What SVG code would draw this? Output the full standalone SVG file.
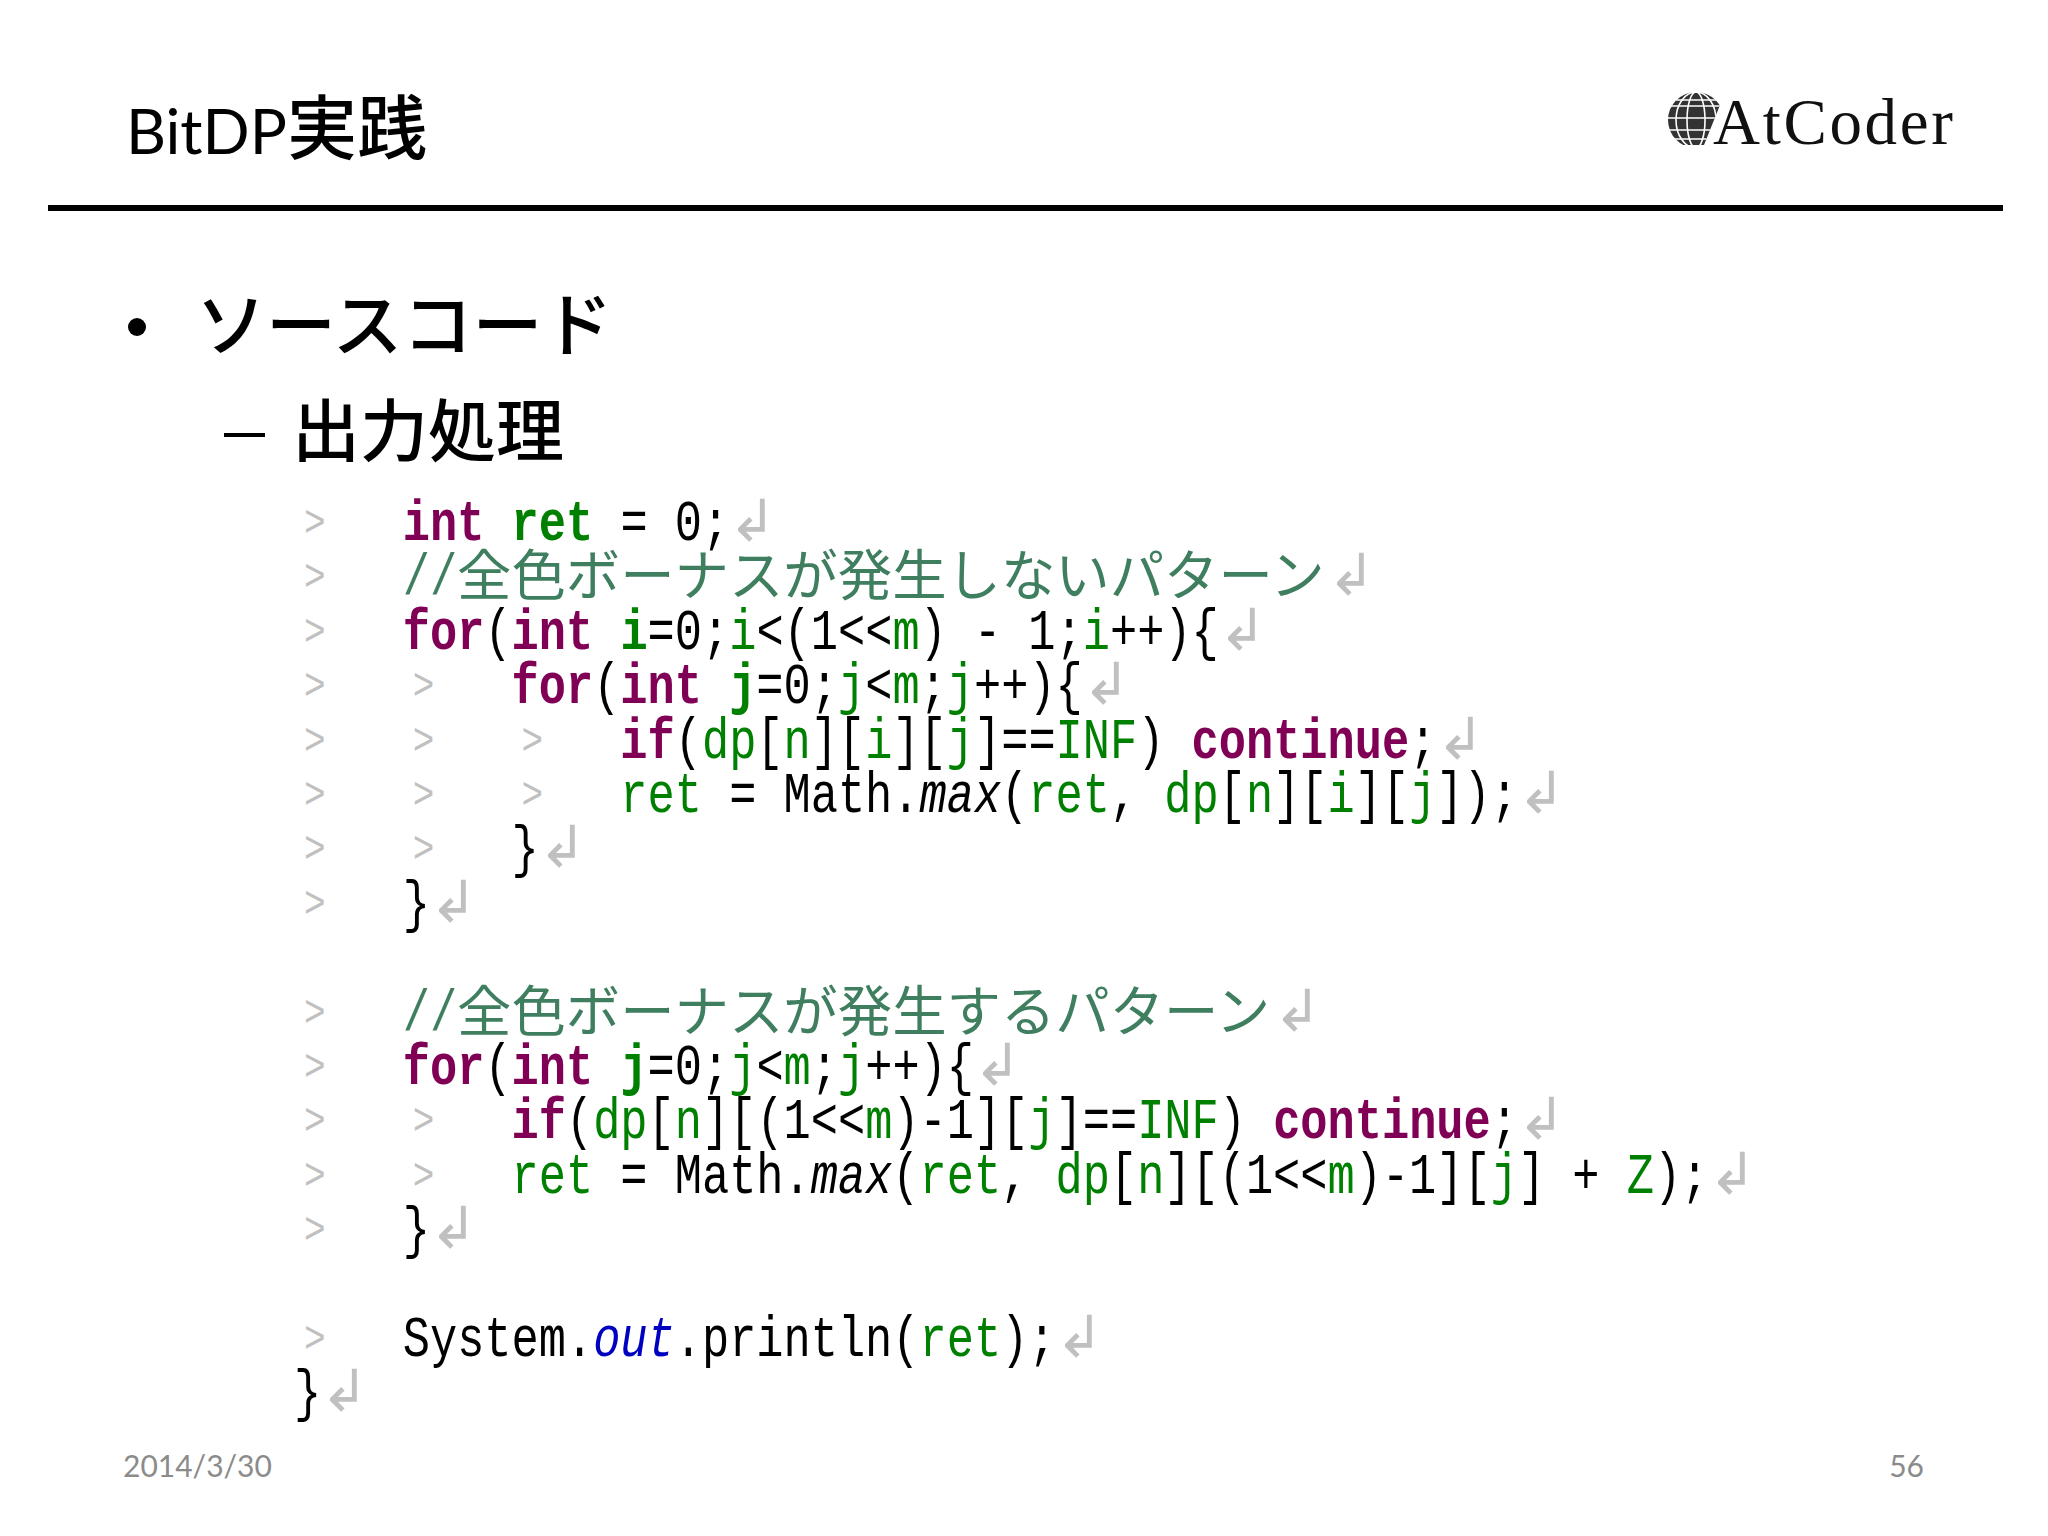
<svg xmlns="http://www.w3.org/2000/svg" width="2048" height="1536" viewBox="0 0 2048 1536">
<style>
text{white-space:pre}
.h{font-family:"Lato","Noto Sans CJK JP",sans-serif;fill:#000}
.jp{font-family:"Noto Sans CJK JP",sans-serif;fill:#000;font-weight:500}
.f{font-family:"Lato",sans-serif;fill:#8b8b8b;font-size:30px}
.c{font-family:"Liberation Mono",monospace;font-size:45.33px;fill:#000}
.k{fill:#7f0055;font-weight:bold}
.v{fill:#008000;font-weight:bold}
.g{fill:#008000}
.i{font-style:italic}
.b{fill:#0000c0;font-style:italic}
.m{fill:#3f7f5f}
.w{font-family:"Liberation Mono",monospace;font-size:36px;fill:#c0c0c0}
.r{font-family:"DejaVu Sans",sans-serif;font-size:58px;fill:#c0c0c0}
.cm{font-family:"Noto Sans CJK JP",sans-serif;font-size:54.4px;fill:#3f7f5f}
</style>
<rect width="2048" height="1536" fill="#fff"/>
<text class="h" x="126" y="154" font-size="62">BitDP<tspan font-size="70" font-weight="500">実践</tspan></text>
<rect x="48" y="205" width="1955" height="6" fill="#000"/>
<g id="logo">
<clipPath id="gc"><path d="M1724 95L1704 145H1660V87H1724Z"/></clipPath>
<g clip-path="url(#gc)">
<circle cx="1696" cy="120" r="28" fill="#333"/>
<g fill="none" stroke="#fff" stroke-width="1.6">
<ellipse cx="1696" cy="120" rx="9" ry="28"/>
<ellipse cx="1696" cy="120" rx="20" ry="28"/>
<path d="M1668 106H1724M1668 118H1724M1668 130H1724M1672 139H1724M1676 100H1724"/>
</g>
</g>
<text x="1713" y="144" font-family="Liberation Serif,serif" font-size="65" textLength="240" fill="#111">AtCoder</text>
</g>
<circle cx="137" cy="327" r="9" fill="#000"/>
<text class="jp" x="196" y="351" font-size="70">ソースコード</text>
<rect x="224" y="433" width="41" height="4" fill="#000"/>
<text class="jp" x="292" y="456" font-size="68">出力処理</text>
<g id="code">
<g transform="scale(1 1.25)">
<text class="c" y="432" x="294">    <tspan class="k">int</tspan> <tspan class="v">ret</tspan> = 0;</text>
<text class="c" y="475.52" x="294">    <tspan class="m">//</tspan></text>
<text class="c" y="519.04" x="294">    <tspan class="k">for</tspan>(<tspan class="k">int</tspan> <tspan class="v">i</tspan>=0;<tspan class="g">i</tspan>&lt;(1&lt;&lt;<tspan class="g">m</tspan>) - 1;<tspan class="g">i</tspan>++){</text>
<text class="c" y="562.56" x="294">        <tspan class="k">for</tspan>(<tspan class="k">int</tspan> <tspan class="v">j</tspan>=0;<tspan class="g">j</tspan>&lt;<tspan class="g">m</tspan>;<tspan class="g">j</tspan>++){</text>
<text class="c" y="606.08" x="294">            <tspan class="k">if</tspan>(<tspan class="g">dp</tspan>[<tspan class="g">n</tspan>][<tspan class="g">i</tspan>][<tspan class="g">j</tspan>]==<tspan class="g">INF</tspan>) <tspan class="k">continue</tspan>;</text>
<text class="c" y="649.6" x="294">            <tspan class="g">ret</tspan> = Math.<tspan class="i">max</tspan>(<tspan class="g">ret</tspan>, <tspan class="g">dp</tspan>[<tspan class="g">n</tspan>][<tspan class="g">i</tspan>][<tspan class="g">j</tspan>]);</text>
<text class="c" y="693.12" x="294">        }</text>
<text class="c" y="736.64" x="294">    }</text>
<text class="c" y="823.68" x="294">    <tspan class="m">//</tspan></text>
<text class="c" y="867.2" x="294">    <tspan class="k">for</tspan>(<tspan class="k">int</tspan> <tspan class="v">j</tspan>=0;<tspan class="g">j</tspan>&lt;<tspan class="g">m</tspan>;<tspan class="g">j</tspan>++){</text>
<text class="c" y="910.72" x="294">        <tspan class="k">if</tspan>(<tspan class="g">dp</tspan>[<tspan class="g">n</tspan>][(1&lt;&lt;<tspan class="g">m</tspan>)-1][<tspan class="g">j</tspan>]==<tspan class="g">INF</tspan>) <tspan class="k">continue</tspan>;</text>
<text class="c" y="954.24" x="294">        <tspan class="g">ret</tspan> = Math.<tspan class="i">max</tspan>(<tspan class="g">ret</tspan>, <tspan class="g">dp</tspan>[<tspan class="g">n</tspan>][(1&lt;&lt;<tspan class="g">m</tspan>)-1][<tspan class="g">j</tspan>] + <tspan class="g">Z</tspan>);</text>
<text class="c" y="997.76" x="294">    }</text>
<text class="c" y="1084.8" x="294">    System.<tspan class="b">out</tspan>.println(<tspan class="g">ret</tspan>);</text>
<text class="c" y="1128.32" x="294">}</text>
<g id="tabs">
<text class="w" y="428.8" x="304">&gt;</text>
<text class="w" y="472.32" x="304">&gt;</text>
<text class="w" y="515.84" x="304">&gt;</text>
<text class="w" y="559.36" x="304 412.8">&gt;&gt;</text>
<text class="w" y="602.88" x="304 412.8 521.6">&gt;&gt;&gt;</text>
<text class="w" y="646.4" x="304 412.8 521.6">&gt;&gt;&gt;</text>
<text class="w" y="689.92" x="304 412.8">&gt;&gt;</text>
<text class="w" y="733.44" x="304">&gt;</text>
<text class="w" y="820.48" x="304">&gt;</text>
<text class="w" y="864" x="304">&gt;</text>
<text class="w" y="907.52" x="304 412.8">&gt;&gt;</text>
<text class="w" y="951.04" x="304 412.8">&gt;&gt;</text>
<text class="w" y="994.56" x="304">&gt;</text>
<text class="w" y="1081.6" x="304">&gt;</text>
</g>
</g>
<g id="returns">
<text class="r" y="541" x="728">↲</text>
<text class="r" y="595.4" x="1327">↲</text>
<text class="r" y="649.8" x="1218">↲</text>
<text class="r" y="704.2" x="1082">↲</text>
<text class="r" y="758.6" x="1436">↲</text>
<text class="r" y="813" x="1517">↲</text>
<text class="r" y="867.4" x="538">↲</text>
<text class="r" y="921.8" x="429">↲</text>
<text class="r" y="1030.6" x="1273">↲</text>
<text class="r" y="1085" x="973">↲</text>
<text class="r" y="1139.4" x="1517">↲</text>
<text class="r" y="1193.8" x="1708">↲</text>
<text class="r" y="1248.2" x="429">↲</text>
<text class="r" y="1357" x="1055">↲</text>
<text class="r" y="1411.4" x="320">↲</text>
</g>
<text class="cm" x="457" y="595.4">全色ボーナスが発生しないパターン</text>
<text class="cm" x="457" y="1030.5">全色ボーナスが発生するパターン</text>
</g>
<text class="f" x="123" y="1477">2014/3/30</text>
<text class="f" x="1924" y="1477" text-anchor="end">56</text>
</svg>
